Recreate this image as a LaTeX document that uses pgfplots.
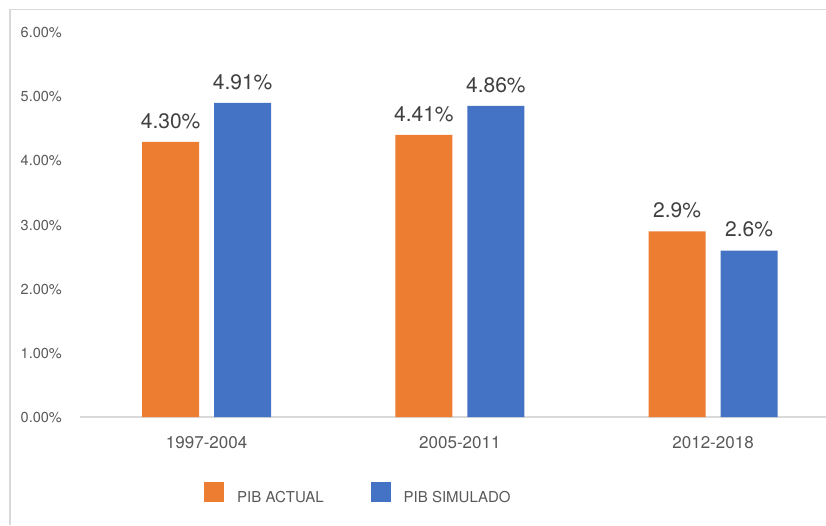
\documentclass[border=0pt]{standalone}
\usepackage{fontspec}
\setmainfont{TeX Gyre Heros}
\usepackage{pgfplots}
\pgfplotsset{compat=1.18}
\definecolor{cOrange}{HTML}{ED7D31}
\definecolor{cBlue}{HTML}{4472C4}
\definecolor{cTick}{HTML}{595959}
\definecolor{cLabel}{HTML}{404040}
\definecolor{cGrid}{HTML}{D9D9D9}
\pgfplotsset{ybar legend/.style={/pgfplots/legend image code/.code={\fill[##1,draw=none] (0pt,-4.6pt) rectangle (20pt,15.4pt);}}}
\begin{document}
\begin{tikzpicture}[x=1pt,y=1pt]
\path[use as bounding box] (0,0) rectangle (826,-525);
\draw[cGrid, line width=1.5pt] (10,-525) -- (10,-9.5) -- (826,-9.5);
\begin{axis}[
  at={(80pt,-417pt)}, anchor=south west, scale only axis,
  width=746pt, height=384pt,
  xmin=-0.5, xmax=2.446, ymin=0, ymax=6,
  axis lines=left,
  x axis line style={cGrid, line width=1.2pt, -},
  y axis line style={draw=none},
  ytick={0,1,2,3,4,5,6},
  yticklabels={0.00\%,1.00\%,2.00\%,3.00\%,4.00\%,5.00\%,6.00\%},
  xtick={0,1,2},
  xticklabels={1997-2004,2005-2011,2012-2018},
  major tick length=0pt,
  yticklabel style={anchor=east, inner sep=0pt, xshift=-18pt, font=\fontsize{14.5}{16}\selectfont, text=cTick},
  xticklabel style={anchor=north, inner sep=0pt, yshift=-19pt, font=\fontsize{17}{19}\selectfont, text=cTick},
  ybar, bar width=57pt,
  nodes near coords, point meta=explicit symbolic,
  nodes near coords style={anchor=south, inner sep=0pt, yshift=13pt, font=\fontsize{21}{24}\selectfont, text=cLabel},
  legend cell align=left,
  legend columns=2,
  legend style={at={(0.1662,-0.1979)}, anchor=west, draw=none, fill=none, inner sep=0pt,
    font=\fontsize{15}{17}\selectfont, text=cTick,
    nodes={inner sep=0pt},
    /tikz/every odd column/.append style={column sep=13pt},
    /tikz/every even column/.append style={column sep=47pt}},
]
\addplot[fill=cOrange, draw=none, bar shift=-36pt] coordinates {(0,4.30) [4.30\%] (1,4.41) [4.41\%] (2,2.9) [2.9\%]};
\addplot[fill=cBlue, draw=none, bar shift=36pt] coordinates {(0,4.91) [4.91\%] (1,4.86) [4.86\%] (2,2.6) [2.6\%]};
\legend{PIB ACTUAL, PIB SIMULADO}
\end{axis}
\end{tikzpicture}
\end{document}
